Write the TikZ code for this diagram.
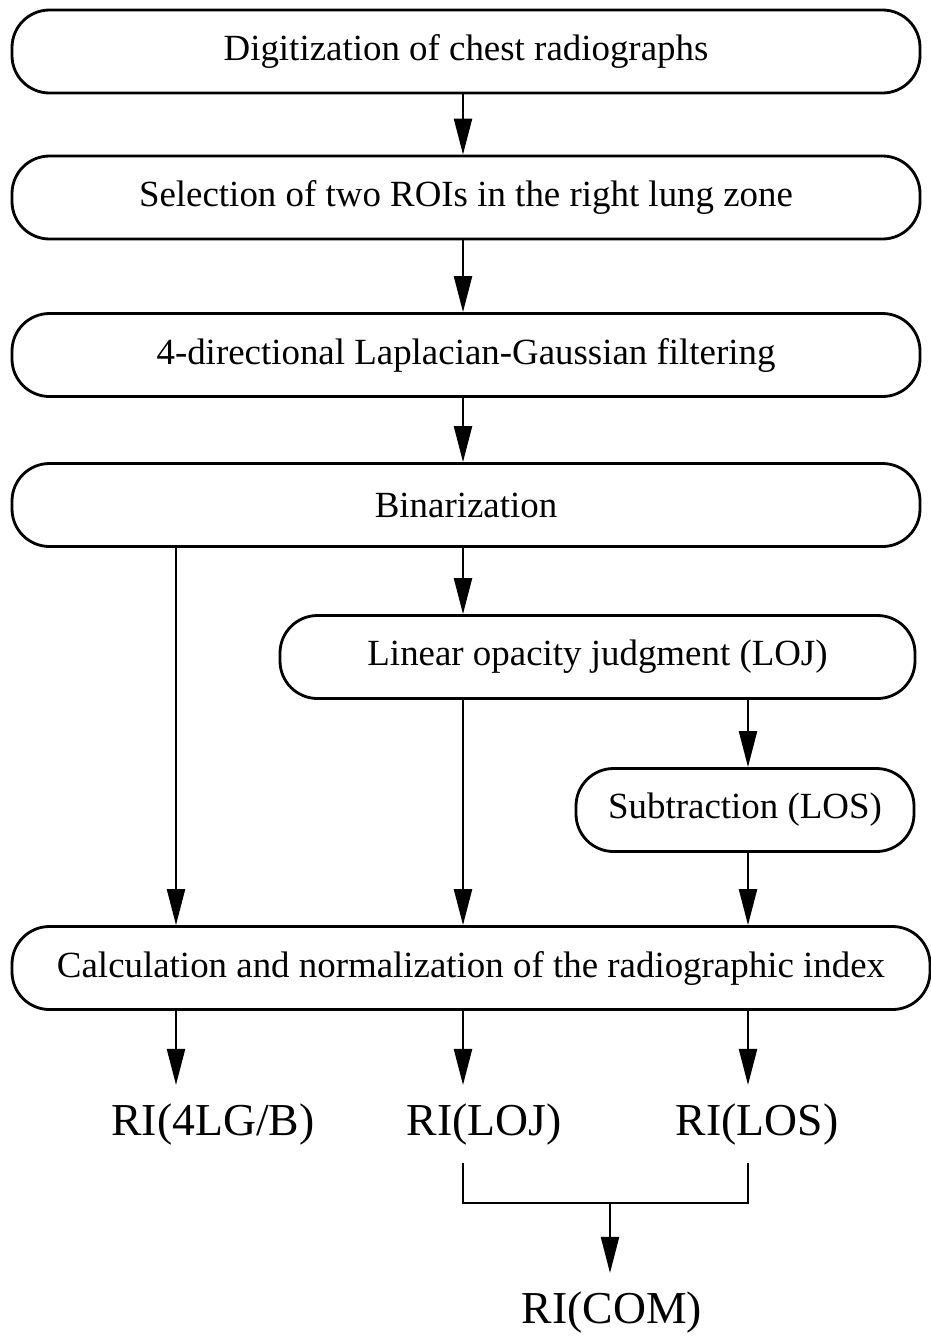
\documentclass[tikz,border=0pt]{standalone}
\usepackage{fontspec}
\setmainfont{Liberation Serif}
\usetikzlibrary{arrows.meta}

\begin{document}
\begin{tikzpicture}[
    box/.style={draw,line width=1.6pt,rounded corners=0.75cm,minimum height=1.66cm,font=\fontsize{21}{25}\selectfont},
    arr/.style={-{Triangle[length=0.72cm,width=0.36cm]},line width=1.3pt},
    line/.style={line width=1.3pt},
    result/.style={anchor=base,inner sep=0.36cm,font=\fontsize{26}{30}\selectfont}]
    \useasboundingbox (0,0) rectangle (18.62,-26.78);

    % Columns of the arrows
    \coordinate (cl) at (3.52,0);
    \coordinate (cc) at (9.26,0);
    \coordinate (cr) at (14.96,0);

    % Steps
    \node[box,minimum width=18.16cm] (dig) at (9.32,-1.03) {Digitization of chest radiographs};
    \node[box,minimum width=18.16cm] (sel) at (9.32,-3.95) {Selection of two ROIs in the right lung zone};
    \node[box,minimum width=18.16cm] (lgf) at (9.32,-7.10) {4-directional Laplacian-Gaussian filtering};
    \node[box,minimum width=18.16cm] (bin) at (9.32,-10.10) {Binarization};
    \node[box,minimum width=12.7cm] (loj) at (11.95,-13.14) {Linear opacity judgment (LOJ)};
    \node[box,minimum width=6.76cm] (los) at (14.9,-16.20) {Subtraction (LOS)};
    \node[box,minimum width=18.36cm] (calc) at (9.42,-19.36) {Calculation and normalization of the radiographic index};

    % Indices
    \node[result] (ri4) at (4.26,-22.70) {RI(4LG/B)};
    \node[result] (rij) at (9.68,-22.70) {RI(LOJ)};
    \node[result] (ril) at (15.14,-22.70) {RI(LOS)};
    \node[result] (com) at (12.24,-26.46) {RI(COM)};
    \coordinate (jn) at (12.2,-24.06);

    % Connections
    \draw[arr] (dig.south -| cc) -- (sel.north -| cc);
    \draw[arr] (sel.south -| cc) -- (lgf.north -| cc);
    \draw[arr] (lgf.south -| cc) -- (bin.north -| cc);
    \draw[arr] (bin.south -| cc) -- (loj.north -| cc);
    \draw[arr] (bin.south -| cl) -- (calc.north -| cl);
    \draw[arr] (loj.south -| cc) -- (calc.north -| cc);
    \draw[arr] (loj.south -| cr) -- (los.north -| cr);
    \draw[arr] (los.south -| cr) -- (calc.north -| cr);
    \draw[arr] (calc.south -| cl) -- (ri4.north -| cl);
    \draw[arr] (calc.south -| cc) -- (rij.north -| cc);
    \draw[arr] (calc.south -| cr) -- (ril.north -| cr);
    \draw[line] (rij.south -| cc) |- (jn) -| (ril.south -| cr);
    \draw[arr] (jn) -- (com.north -| jn);
\end{tikzpicture}
\end{document}
